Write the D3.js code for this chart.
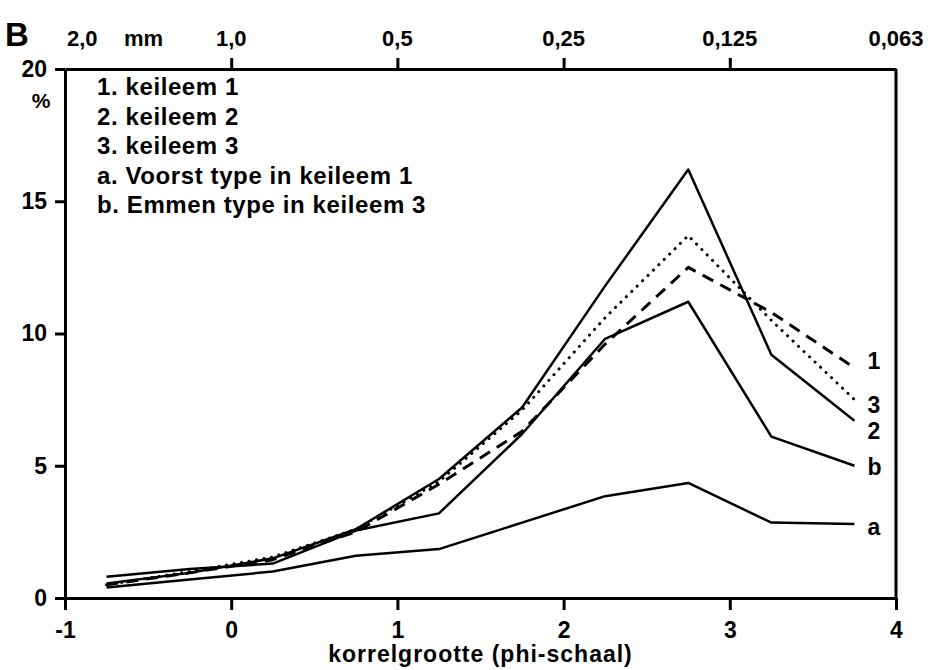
<!DOCTYPE html>
<html lang="nl">
<head>
    <meta charset="UTF-8">
    <title>Korrelgrootte keileem</title>
    <style>
        body {
            margin: 0;
            background: #fff;
        }
        svg text {
            font-family: "Liberation Sans", Arial, sans-serif;
            font-weight: bold;
            fill: #000;
        }
        .axis path, .axis line {
            stroke: #000;
            stroke-width: 3;
        }
    </style>
</head>
<body>
    <script src="https://d3js.org/d3.v7.min.js"></script>
    <script>
        // phi classes (midpoints) and percentages per sample
        const phi = [-0.75, -0.25, 0.25, 0.75, 1.25, 1.75, 2.25, 2.75, 3.25, 3.75];
        const keileem1 = [0.5, 0.95, 1.45, 2.5, 4.3, 6.3, 9.6, 12.5, 10.8, 8.7];
        const keileem2 = [0.55, 0.95, 1.5, 2.6, 4.5, 7.2, 11.8, 16.2, 9.2, 6.7];
        const keileem3 = [0.5, 1.0, 1.55, 2.6, 4.4, 7.1, 10.6, 13.7, 10.5, 7.5];
        const typeA = [0.4, 0.7, 1.0, 1.6, 1.85, 2.85, 3.85, 4.35, 2.85, 2.8];
        const typeB = [0.8, 1.1, 1.3, 2.55, 3.2, 6.2, 9.8, 11.2, 6.1, 5.0];

        const legendItems = [
            "1. keileem 1",
            "2. keileem 2",
            "3. keileem 3",
            "a. Voorst type in keileem 1",
            "b. Emmen type in keileem 3"
        ];
        const xTicks = [-1, 0, 1, 2, 3, 4];
        const yTicks = [0, 5, 10, 15, 20];
        const mmTicks = [0, 1, 2, 3];
        const mmPhi = [-1, 0, 1, 2, 3, 4];
        const mmLabels = ["2,0", "1,0", "0,5", "0,25", "0,125", "0,063"];

        const width = 928, height = 670;
        const margin = {top: 69, right: 32, bottom: 72, left: 65};

        const svg = d3.select("body").append("svg")
            .attr("width", width)
            .attr("height", height);

        const x = d3.scaleLinear().domain([-1, 4]).range([margin.left, width - margin.right]);
        const y = d3.scaleLinear().domain([0, 20]).range([height - margin.bottom, margin.top]);

        // frame: top and right
        svg.append("g").attr("class", "axis")
            .attr("transform", `translate(0,${margin.top})`)
            .call(d3.axisTop(x).tickValues(mmTicks).tickSize(11).tickSizeOuter(0).tickFormat(""));
        svg.append("line")
            .attr("x1", x(4)).attr("x2", x(4))
            .attr("y1", y(20)).attr("y2", y(0))
            .attr("stroke", "#000").attr("stroke-width", 3);

        // bottom axis
        const xAxis = svg.append("g").attr("class", "axis")
            .attr("transform", `translate(0,${y(0)})`)
            .call(d3.axisBottom(x).tickValues(xTicks).tickSize(12).tickSizeOuter(0).tickPadding(12)
                .tickFormat(d => String(d)));
        xAxis.selectAll("text").style("font-size", "23px");

        // left axis
        const yAxis = svg.append("g").attr("class", "axis")
            .attr("transform", `translate(${margin.left},0)`)
            .call(d3.axisLeft(y).tickValues(yTicks).tickSize(10).tickSizeOuter(0).tickPadding(8));
        yAxis.selectAll("text").style("font-size", "23px");

        svg.selectAll(".axis text").attr("font-family", null);

        // top mm labels
        svg.selectAll(".mm")
            .data(mmLabels)
            .enter().append("text")
            .attr("class", "mm")
            .attr("x", (d, i) => i === 0 ? x(mmPhi[i]) + 2 : x(mmPhi[i]))
            .attr("y", 46)
            .attr("text-anchor", (d, i) => i === 0 ? "start" : "middle")
            .style("font-size", "22px")
            .text(d => d);
        svg.append("text").attr("x", 124).attr("y", 46).style("font-size", "22px").text("mm");

        svg.append("text").attr("x", 5).attr("y", 46).style("font-size", "33px").text("B");
        svg.append("text").attr("x", 41).attr("y", 108).attr("text-anchor", "middle")
            .style("font-size", "21px").text("%");

        svg.append("text")
            .attr("x", (x(-1) + x(4)) / 2)
            .attr("y", 662)
            .attr("text-anchor", "middle")
            .style("font-size", "23px")
            .style("letter-spacing", "1px")
            .text("korrelgrootte (phi-schaal)");

        // legend
        svg.selectAll(".legend")
            .data(legendItems)
            .enter().append("text")
            .attr("class", "legend")
            .attr("x", 97)
            .attr("y", (d, i) => 95 + i * 29.5)
            .style("font-size", "24px")
            .style("letter-spacing", "0.6px")
            .text(d => d);

        // series
        const series = [
            {name: "1", values: keileem1, dash: "12,8", w: 3, shift: -7},
            {name: "2", values: keileem2, dash: null, w: 2.5, shift: 10},
            {name: "3", values: keileem3, dash: "0.1,7.5", w: 3, shift: 5},
            {name: "a", values: typeA, dash: null, w: 2.5, shift: 3},
            {name: "b", values: typeB, dash: null, w: 2.5, shift: 1}
        ];

        const line = d3.line()
            .x((d, i) => x(phi[i]))
            .y(d => y(d));

        svg.selectAll(".series")
            .data(series)
            .enter().append("path")
            .attr("class", "series")
            .attr("d", d => line(d.values))
            .attr("fill", "none")
            .attr("stroke", "#000")
            .attr("stroke-width", d => d.w)
            .attr("stroke-linecap", d => d.name === "3" ? "round" : "butt")
            .attr("stroke-linejoin", "round")
            .attr("stroke-dasharray", d => d.dash);

        svg.selectAll(".endlabel")
            .data(series)
            .enter().append("text")
            .attr("class", "endlabel")
            .attr("x", x(phi[phi.length - 1]) + 13)
            .attr("y", d => y(d.values[d.values.length - 1]) + d.shift)
            .attr("dy", "0.35em")
            .style("font-size", "23px")
            .text(d => d.name);
    </script>
</body>
</html>
